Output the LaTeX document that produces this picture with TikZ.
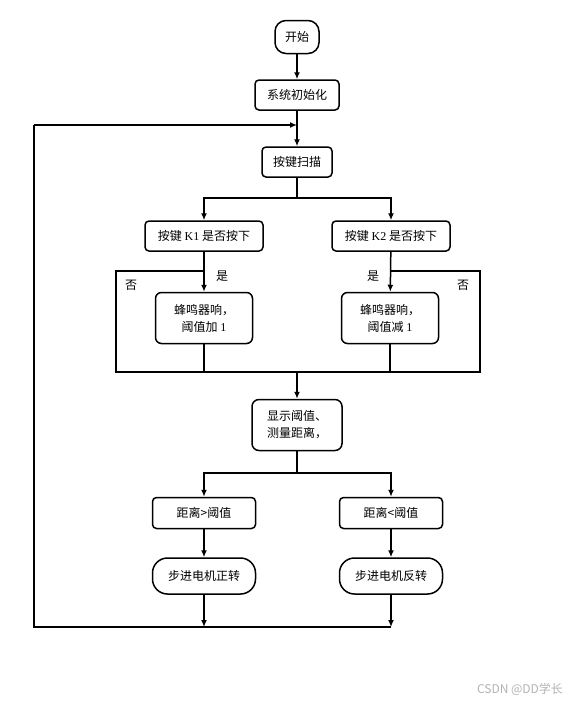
\documentclass[tikz,border=0pt]{standalone}
\usepackage{fontspec}
\setmainfont{Liberation Serif}
\newfontfamily\cjk{Noto Sans CJK SC}
\usetikzlibrary{arrows.meta}

\tikzset{
  box/.style = {draw, line width=1.5pt, rounded corners=4pt, inner sep=0pt, align=center,
                font=\cjk\fontsize{12}{17}\selectfont},
  term/.style = {box, rounded corners=15pt},
  flow/.style = {line width=1.5pt, -{Latex[length=7pt,width=6pt]}},
  wire/.style = {line width=1.5pt},
  lbl/.style = {inner sep=0pt, font=\cjk\fontsize{12}{14}\selectfont}
}

\begin{document}
\begin{tikzpicture}[x=1pt, y=-1pt]
        \useasboundingbox (0, 0) rectangle (586, 705);

        % top
        \node[term, rounded corners=11pt, minimum width=44pt, minimum height=33pt] (start) at (297, 37) {开始};
        \node[box, minimum width=84pt, minimum height=30pt] (init) at (297, 95) {系统初始化};
        \node[box, minimum width=70pt, minimum height=30pt] (scan) at (297, 162) {按键扫描};

        % keys
        \node[box, minimum width=118pt, minimum height=30pt] (k1) at (204, 236) {按键 {\rmfamily K1} 是否按下};
        \node[box, minimum width=118pt, minimum height=30pt] (k2) at (391, 236) {按键 {\rmfamily K2} 是否按下};
        \node[box, rounded corners=6pt, minimum width=97pt, minimum height=51pt] (beep1) at (204, 318) {蜂鸣器响，\\阈值加 {\rmfamily 1}};
        \node[box, rounded corners=6pt, minimum width=97pt, minimum height=51pt] (beep2) at (390, 318) {蜂鸣器响，\\阈值减 {\rmfamily 1}};

        % bottom
        \node[box, rounded corners=7pt, align=left, minimum width=90pt, minimum height=51pt] (show) at (297, 425) {显示阈值、\\测量距离，};
        \node[box, minimum width=103pt, minimum height=31pt] (gt) at (204, 513) {距离>阈值};
        \node[box, minimum width=103pt, minimum height=31pt] (lt) at (391, 513) {距离<阈值};
        \node[term, minimum width=103pt, minimum height=36pt] (fwd) at (204, 576) {步进电机正转};
        \node[term, minimum width=103pt, minimum height=36pt] (rev) at (391, 576) {步进电机反转};

        \coordinate (loop) at (297, 125);
        \coordinate (split1) at (297, 198);
        \coordinate (no1) at (116, 271);
        \coordinate (no2) at (480, 271);
        \coordinate (merge) at (297, 372);
        \coordinate (split2) at (297, 473);
        \coordinate (back) at (34, 627);

        \draw[flow] (start) -- (init);
        \draw[flow] (init) -- (scan);
        \draw[wire] (scan) -- (split1);
        \draw[flow] (split1) -| (k1);
        \draw[flow] (split1) -| (k2);
        \draw[flow] (k1) -- (beep1);
        \draw[flow] (k2) -- (beep2);
        \draw[wire] (k1 |- no1) -- (no1) -- (no1 |- merge) -- (no2 |- merge) -- (no2) -- (k2 |- no2);
        \draw[wire] (beep1) -- (beep1 |- merge);
        \draw[wire] (beep2) -- (beep2 |- merge);
        \node[lbl] (yes1) at (222, 276) {是};
        \node[lbl] (yes2) at (373, 276) {是};
        \node[lbl] (not1) at (131, 285) {否};
        \node[lbl] (not2) at (463, 285) {否};

        \draw[flow] (merge) -- (show);
        \draw[wire] (show) -- (split2);
        \draw[flow] (split2) -| (gt);
        \draw[flow] (split2) -| (lt);
        \draw[flow] (gt) -- (fwd);
        \draw[flow] (lt) -- (rev);
        \draw[flow] (fwd) -- (fwd |- back);
        \draw[flow] (rev) -- (rev |- back);
        \draw[wire] (rev |- back) -- (back) -- (back |- loop);
        \draw[flow] (back |- loop) -- (loop);

        \node[text=gray!60, inner sep=0pt, font=\cjk\fontsize{12}{14}\selectfont] (mark) at (520, 689) {CSDN @DD学长};
      \end{tikzpicture}
\end{document}
